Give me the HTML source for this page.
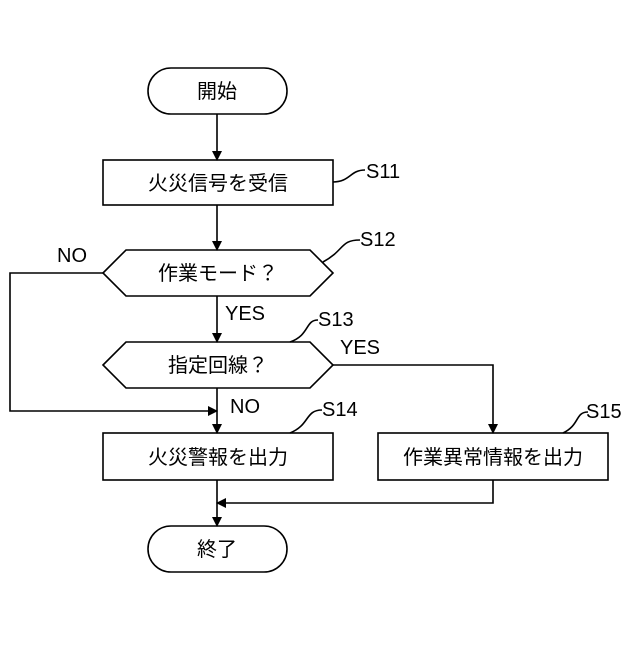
<!DOCTYPE html>
<html><head><meta charset="utf-8"><style>body{margin:0;background:#fff}</style></head><body>
<svg width="640" height="640" viewBox="0 0 640 640" xmlns="http://www.w3.org/2000/svg" font-family="'Liberation Sans','Noto Sans CJK JP',sans-serif" font-size="20" fill="none" stroke="#000" stroke-width="1.6">
<defs><marker id="a" markerWidth="10" markerHeight="10" refX="9" refY="5" orient="auto" markerUnits="userSpaceOnUse"><path d="M0,0 L10,5 L0,10 Z" fill="#000" stroke="none"/></marker></defs>
<rect x="148" y="68" width="139" height="46" rx="23" fill="#fff"/>
<rect x="103" y="160" width="230" height="45" fill="#fff"/>
<polygon points="103,273 126,250 310,250 333,273 310,296 126,296" fill="#fff"/>
<polygon points="103,365 126,342 310,342 333,365 310,388 126,388" fill="#fff"/>
<rect x="103" y="433" width="230" height="47" fill="#fff"/>
<rect x="378" y="433" width="230" height="47" fill="#fff"/>
<rect x="148" y="526" width="139" height="46" rx="23" fill="#fff"/>
<line x1="217" y1="114" x2="217" y2="160" marker-end="url(#a)"/>
<line x1="217" y1="205" x2="217" y2="250" marker-end="url(#a)"/>
<line x1="217" y1="296" x2="217" y2="342" marker-end="url(#a)"/>
<line x1="217" y1="388" x2="217" y2="433" marker-end="url(#a)"/>
<polyline points="103,273 10,273 10,411 217,411" marker-end="url(#a)"/>
<polyline points="333,365 493,365 493,433" marker-end="url(#a)"/>
<polyline points="493,480 493,503 217,503" marker-end="url(#a)"/>
<line x1="217" y1="480" x2="217" y2="526" marker-end="url(#a)"/>
<path d="M333,182 C350,182 350,170 365,170"/>
<path d="M323,262 C345,250 340,240 360,240"/>
<path d="M290,342 C310,335 305,320 318,320"/>
<path d="M290,433 C310,425 305,410 322,410"/>
<path d="M563,433 C580,425 575,412 588,412"/>
<g fill="#000" stroke="none">
<text x="217" y="98" text-anchor="middle">開始</text>
<text x="218" y="190" text-anchor="middle">火災信号を受信</text>
<text x="218" y="280" text-anchor="middle">作業モード？</text>
<text x="218" y="372" text-anchor="middle">指定回線？</text>
<text x="218" y="464" text-anchor="middle">火災警報を出力</text>
<text x="493" y="464" text-anchor="middle">作業異常情報を出力</text>
<text x="217" y="556" text-anchor="middle">終了</text>
<text x="366" y="178">S11</text>
<text x="360" y="246">S12</text>
<text x="318" y="326">S13</text>
<text x="322" y="416">S14</text>
<text x="586" y="418">S15</text>
<text x="57" y="262">NO</text>
<text x="225" y="320">YES</text>
<text x="340" y="354">YES</text>
<text x="230" y="413">NO</text>
</g>
</svg>
</body></html>
